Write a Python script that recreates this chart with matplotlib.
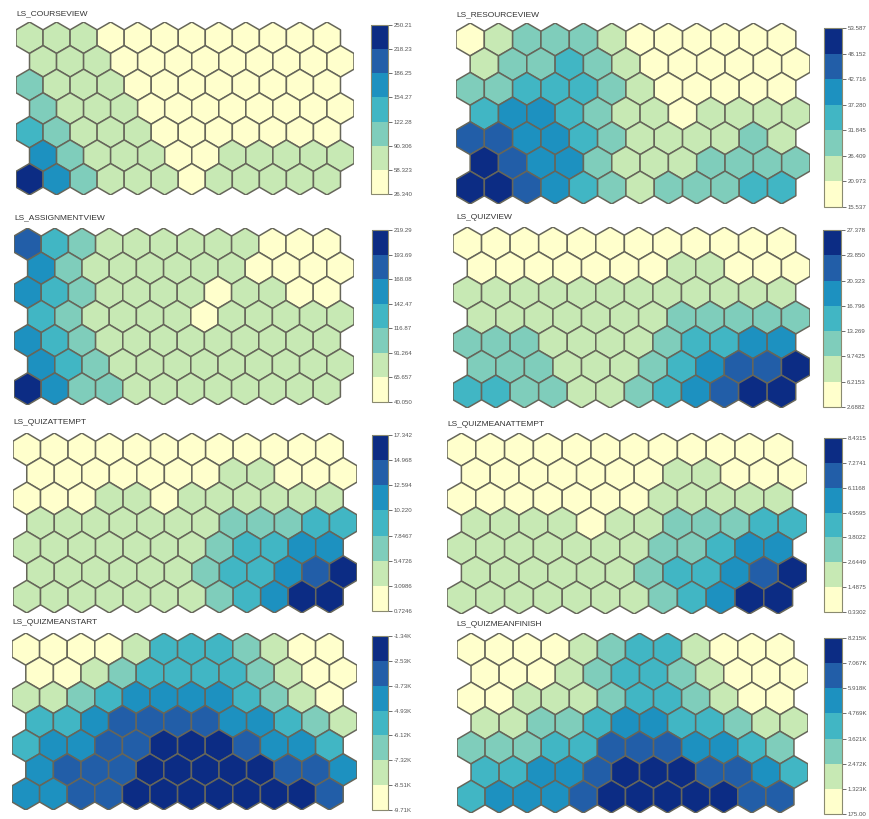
import numpy as np
import matplotlib
matplotlib.use("Agg")
import matplotlib.pyplot as plt
from matplotlib.collections import PolyCollection
from matplotlib.colors import ListedColormap, BoundaryNorm
from matplotlib.cm import ScalarMappable

plt.rcParams['font.family'] = ['Liberation Sans', 'DejaVu Sans']

# ---- SOM component planes: 7 rows x 12 nodes, hexagonal topology ----
# Each grid lists the colour class (0 = lowest bin ... 6 = highest bin)
# of every node, top row first; odd rows (from the top) are shifted right.

titles = ["LS_COURSEVIEW", "LS_RESOURCEVIEW", "LS_ASSIGNMENTVIEW", "LS_QUIZVIEW",
          "LS_QUIZATTEMPT", "LS_QUIZMEANATTEMPT", "LS_QUIZMEANSTART", "LS_QUIZMEANFINISH"]

courseview = ["111000000000",
              "111000000000",
              "211100000000",
              "211100000000",
              "321110000000",
              "421110011111",
              "642111011111"]

resourceview = ["012221000000",
                "122321000000",
                "223332100000",
                "344321101111",
                "554432111121",
                "654421112222",
                "665432122233"]

assignmentview = ["532111111000",
                  "421111110000",
                  "432111101100",
                  "321111011111",
                  "432111111111",
                  "432111111111",
                  "642211111111"]

quizview = ["000000000000",
            "000000011000",
            "111111111111",
            "111111122222",
            "222111123344",
            "222111234556",
            "332211234566"]

quizattempt = ["000000000000",
               "000000011000",
               "000110111111",
               "111111122233",
               "111111123344",
               "111111233456",
               "111111123466"]

quizmeanattempt = ["000000000000",
                   "000000011000",
                   "000000011111",
                   "111101122233",
                   "111111122344",
                   "111111233456",
                   "111111123466"]

quizmeanstart = ["000013332100",
                 "001233332100",
                 "112344443210",
                 "334555544321",
                 "344556665443",
                 "455566666554",
                 "445566666665"]

quizmeanfinish = ["000012331000",
                  "000123321000",
                  "001112332100",
                  "112234433211",
                  "222335554432",
                  "334456665543",
                  "344456666655"]

grids = [courseview, resourceview, assignmentview, quizview,
         quizattempt, quizmeanattempt, quizmeanstart, quizmeanfinish]

# Colour-bar bin boundaries (bottom to top) and their printed labels
bounds = [
    [26.340, 58.323, 90.306, 122.28, 154.27, 186.25, 218.23, 250.21],
    [15.537, 20.973, 26.409, 31.845, 37.280, 42.716, 48.152, 53.587],
    [40.050, 65.657, 91.264, 116.87, 142.47, 168.08, 193.69, 219.29],
    [2.6882, 6.2153, 9.7425, 13.269, 16.796, 20.323, 23.850, 27.378],
    [0.7246, 3.0986, 5.4726, 7.8467, 10.220, 12.594, 14.968, 17.342],
    [0.3302, 1.4875, 2.6449, 3.8022, 4.9595, 6.1168, 7.2741, 8.4315],
    [-9710, -8510, -7320, -6120, -4930, -3730, -2530, -1340],
    [175.00, 1323, 2472, 3621, 4769, 5918, 7067, 8215],
]
bound_labels = [
    ["26.340", "58.323", "90.306", "122.28", "154.27", "186.25", "218.23", "250.21"],
    ["15.537", "20.973", "26.409", "31.845", "37.280", "42.716", "48.152", "53.587"],
    ["40.050", "65.657", "91.264", "116.87", "142.47", "168.08", "193.69", "219.29"],
    ["2.6882", "6.2153", "9.7425", "13.269", "16.796", "20.323", "23.850", "27.378"],
    ["0.7246", "3.0986", "5.4726", "7.8467", "10.220", "12.594", "14.968", "17.342"],
    ["0.3302", "1.4875", "2.6449", "3.8022", "4.9595", "6.1168", "7.2741", "8.4315"],
    ["-9.71K", "-8.51K", "-7.32K", "-6.12K", "-4.93K", "-3.73K", "-2.53K", "-1.34K"],
    ["175.00", "1.323K", "2.472K", "3.621K", "4.769K", "5.918K", "7.067K", "8.215K"],
]

palette = ['#ffffcc', '#c7e9b4', '#7fcdbb', '#41b6c4', '#1d91c0', '#225ea8', '#0c2c84']

# Panel placement in pixels: (hex left, top, right, bottom), (bar left, top, right, bottom), title (x, y)
W, H = 870, 819
hex_boxes = [(16, 22, 354, 195), (456, 23, 810, 204),
             (14, 228, 354, 405), (453, 227, 810, 408),
             (13, 433, 357, 613), (447, 433, 807, 614),
             (12, 633, 357, 810), (457, 633, 808, 813)]
bar_boxes = [(371, 25, 388, 194), (824, 28, 842, 207),
             (372, 230, 388, 402), (823, 230, 841, 407),
             (372, 435, 388, 611), (824, 438, 842, 612),
             (372, 636, 388, 810), (824, 638, 842, 814)]
title_pos = [(16, 15), (456, 16), (14, 219), (456, 219),
             (13, 424), (447, 426), (12, 624), (456, 626)]

fig = plt.figure(figsize=(W / 100, H / 100), dpi=100)


def px_rect(box):
    l, t, r, b = box
    return [l / W, 1 - b / H, (r - l) / W, (b - t) / H]


def hexagon(cx, cy, rad):
    ang = np.pi / 2 + np.arange(6) * np.pi / 3
    return np.column_stack([cx + rad * np.cos(ang), cy + rad * np.sin(ang)])


rad = 1 / np.sqrt(3)
dy = np.sqrt(3) / 2
edge = '#66665a'

for k in range(8):
    grid = grids[k]
    b = np.array(bounds[k], dtype=float)
    cmap = ListedColormap(palette)
    norm = BoundaryNorm(b, cmap.N)

    nrows = len(grid)
    polys, vals = [], []
    for r, row in enumerate(grid):
        j = nrows - 1 - r               # row index counted from the bottom
        for c, ch in enumerate(row):
            cls = int(ch)
            cx = c + 0.5 * (j % 2)
            cy = j * dy
            polys.append(hexagon(cx, cy, rad))
            vals.append(0.5 * (b[cls] + b[cls + 1]))

    ax = fig.add_axes(px_rect(hex_boxes[k]))
    pc = PolyCollection(polys, array=np.array(vals), cmap=cmap, norm=norm,
                        edgecolors=edge, linewidths=1.1)
    ax.add_collection(pc)
    ax.set_xlim(-0.5, 12.0)
    ax.set_ylim(-rad, (nrows - 1) * dy + rad)
    ax.axis('off')

    tx, ty = title_pos[k]
    fig.text(tx / W, 1 - ty / H, titles[k], fontsize=6, color='#333333',
             ha='left', va='baseline')

    cax = fig.add_axes(px_rect(bar_boxes[k]))
    sm = ScalarMappable(norm=norm, cmap=cmap)
    cb = fig.colorbar(sm, cax=cax, ticks=b, spacing='proportional')
    cb.ax.set_yticklabels(bound_labels[k])
    cb.ax.tick_params(labelsize=4.4, length=3, width=0.6, pad=1,
                      colors='#555555', direction='out')
    cb.outline.set_edgecolor('#8a8a70')
    cb.outline.set_linewidth(0.8)

fig.savefig("out.png", dpi=100, facecolor='white')
